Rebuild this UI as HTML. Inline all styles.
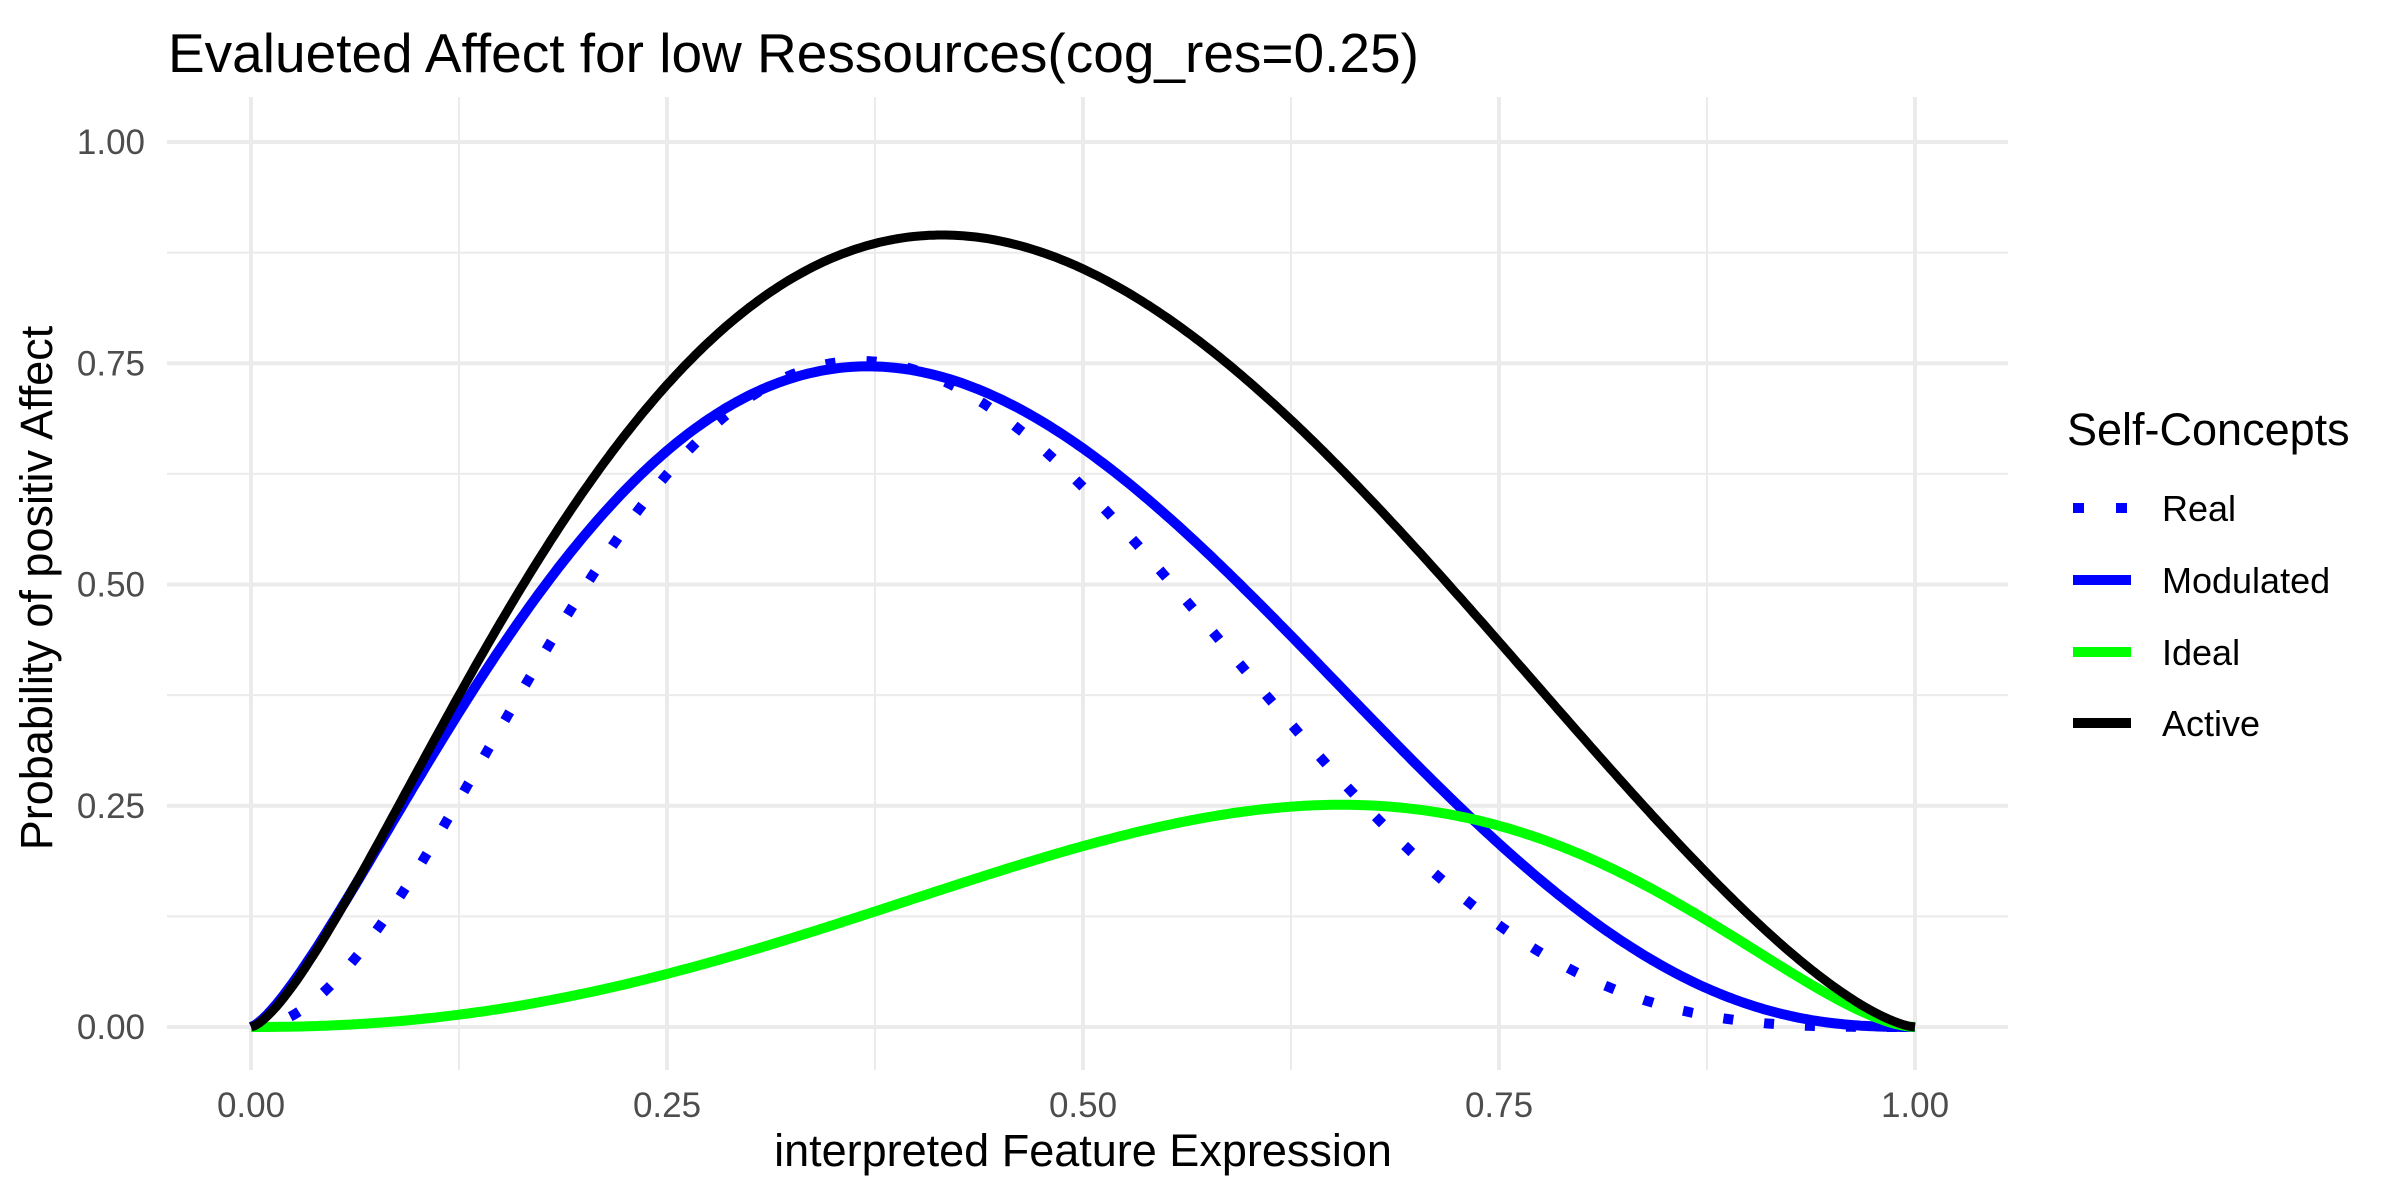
<!DOCTYPE html>
<html><head><meta charset="utf-8"><style>
html,body{margin:0;padding:0;background:#fff;}
svg{display:block;font-family:"Liberation Sans",Arial,sans-serif;}
</style></head><body>
<svg id="s" width="2400" height="1200" viewBox="0 0 2400 1200" xmlns="http://www.w3.org/2000/svg">
<rect width="2400" height="1200" fill="#fff"/>
<g id="grid"></g>
<g id="curves" fill="none" stroke-linejoin="round"></g>
<text x="168" y="72" font-size="55" fill="#000">Evalueted Affect for low Ressources(cog_res=0.25)</text>
<g id="ticks" font-size="35" fill="#4d4d4d"></g>
<text x="1083" y="1166" font-size="45" text-anchor="middle" fill="#000">interpreted Feature Expression</text>
<text transform="translate(52,588) rotate(-90)" font-size="45" text-anchor="middle" fill="#000">Probability of positiv Affect</text>
<text x="2067" y="445" font-size="45" fill="#000">Self-Concepts</text>
<g font-size="36" fill="#000">
<text x="2162" y="521">Real</text>
<text x="2162" y="593">Modulated</text>
<text x="2162" y="665">Ideal</text>
<text x="2162" y="736">Active</text>
</g>
<line x1="2073" y1="508" x2="2131" y2="508" stroke="#0000ff" stroke-width="10" stroke-dasharray="11 32"/>
<line x1="2073" y1="580" x2="2131" y2="580" stroke="#0000ff" stroke-width="10"/>
<line x1="2073" y1="652" x2="2131" y2="652" stroke="#00ff00" stroke-width="10"/>
<line x1="2073" y1="723" x2="2131" y2="723" stroke="#000" stroke-width="10"/>
</svg>
<script>
var NS="http://www.w3.org/2000/svg";
function px(X){return 251+X*1664;}
function py(Y){return 1027-Y*885;}
function el(tag,attrs,parent,txt){var e=document.createElementNS(NS,tag);for(var k in attrs)e.setAttribute(k,attrs[k]);if(txt!==undefined)e.textContent=txt;parent.appendChild(e);return e;}
var grid=document.getElementById('grid');
for(var i=0;i<=8;i++){var v=i*0.125;var major=(i%2==0);
 el('line',{x1:167,x2:2008,y1:py(v),y2:py(v),stroke:'#ebebeb','stroke-width':major?4:2},grid);
 el('line',{y1:97,y2:1070,x1:px(v),x2:px(v),stroke:'#ebebeb','stroke-width':major?4:2},grid);}
var ticks=document.getElementById('ticks');
['0.00','0.25','0.50','0.75','1.00'].forEach(function(t,i){
 el('text',{x:145,y:py(i*0.25)+12,'text-anchor':'end'},ticks,t);
 el('text',{x:px(i*0.25),y:1117,'text-anchor':'middle'},ticks,t);});
function F(x,a,b,d){return (x<=0||x>=1)?0:Math.pow(x,a)*Math.pow(1-x,b)*Math.exp(d*x);}
function fit(pts,useD){
 var best=null;var ds=useD?[-3,-2.5,-2,-1.5,-1,-0.75,-0.5,-0.25,0,0.25,0.5,0.75,1,1.5,2,2.5,3]:[0];
 for(var di=0;di<ds.length;di++){var d=ds[di];
 for(var a=0.5;a<=4.5;a+=0.03){for(var b=0.3;b<=6;b+=0.03){
  var sfy=0,sff=0,fs=[];
  for(var i=0;i<pts.length;i++){var f=F(pts[i][0],a,b,d);fs.push(f);sfy+=f*pts[i][1];sff+=f*f;}
  var c=sfy/sff,err=0;
  for(var i=0;i<pts.length;i++){var r=c*fs[i]-pts[i][1];err+=r*r;}
  if(!best||err<best.e)best={a:a,b:b,c:c,d:d,e:err};}}}
 return best;}
function path(p){var s='';
 for(var i=0;i<=400;i++){var x=i/400;var y=p.c*F(x,p.a,p.b,p.d);
  s+=(i?' L':'M')+px(x).toFixed(1)+','+py(y).toFixed(1);}
 return s;}
var active=[[0.048,0.108],[0.086,0.249],[0.125,0.383],[0.193,0.588],[0.25,0.722],[0.30,0.814],[0.36,0.878],[0.408,0.895],[0.45,0.89],[0.5,0.853],[0.575,0.765],[0.625,0.687],[0.682,0.574],[0.75,0.437],[0.801,0.327],[0.875,0.172],[0.925,0.08],[0.962,0.03]];
var modul=[[0.032,0.059],[0.072,0.186],[0.125,0.359],[0.166,0.475],[0.25,0.645],[0.30,0.708],[0.365,0.751],[0.418,0.737],[0.5,0.659],[0.575,0.532],[0.625,0.44],[0.682,0.33],[0.75,0.207],[0.801,0.129],[0.875,0.044],[0.935,0.009]];
var ideal=[[0.125,0.009],[0.25,0.059],[0.372,0.136],[0.5,0.2],[0.6525,0.251],[0.75,0.223],[0.801,0.2],[0.875,0.122],[0.935,0.044],[0.965,0.02]];
var real=[[0.027,0.016],[0.047,0.044],[0.064,0.083],[0.079,0.119],[0.094,0.159],[0.107,0.201],[0.121,0.242],[0.134,0.285],[0.147,0.325],[0.160,0.366],[0.172,0.408],[0.185,0.451],[0.198,0.491],[0.213,0.532],[0.228,0.571],[0.244,0.609],[0.260,0.645],[0.278,0.680],[0.299,0.710],[0.321,0.733],[0.346,0.747],[0.37,0.751],[0.397,0.742],[0.422,0.724],[0.444,0.701],[0.464,0.672],[0.484,0.639],[0.502,0.606],[0.520,0.572],[0.538,0.535],[0.554,0.5],[0.571,0.463],[0.588,0.426],[0.605,0.389],[0.622,0.353],[0.638,0.316],[0.656,0.281],[0.673,0.246],[0.692,0.210],[0.710,0.177],[0.730,0.147],[0.749,0.117],[0.768,0.090],[0.790,0.067],[0.814,0.046],[0.838,0.030],[0.862,0.016],[0.887,0.009],[0.913,0.004],[0.939,0.002],[0.965,0.001]];
var g=document.getElementById('curves');
el('path',{d:path(fit(real,false)),stroke:'#0000ff','stroke-width':10,'stroke-dasharray':'10 31'},g);
el('path',{d:path(fit(modul,true)),stroke:'#0000ff','stroke-width':10},g);
el('path',{d:path(fit(ideal,true)),stroke:'#00ff00','stroke-width':10},g);
el('path',{d:path(fit(active,true)),stroke:'#000000','stroke-width':9},g);
</script>
</body></html>
